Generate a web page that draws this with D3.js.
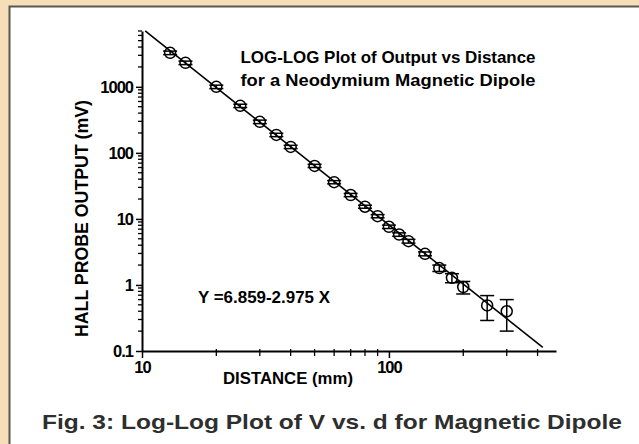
<!DOCTYPE html>
<html>
<head>
<meta charset="utf-8">
<script src="https://cdn.jsdelivr.net/npm/d3@7"></script>
<style>
  body { margin: 0; background: #f5deb8; }
  svg { display: block; font-family: "Liberation Sans", Arial, sans-serif; }
</style>
</head>
<body>
<div id="chart-container"></div>
<script>
// Distance (mm) and hall probe output (mV)
const distance = [13, 15, 20, 25, 30, 35, 40, 50, 60, 70, 80, 90, 100, 110, 120, 140, 160, 180, 200, 250, 300];
const output = [3270, 2310, 1000, 515, 295, 187, 123, 63.5, 36, 23, 15.3, 11, 7.6, 5.8, 4.6, 2.96, 1.8, 1.28, 0.93, 0.49, 0.4];
const outputErr = [200, 140, 60, 30, 18, 11, 7, 3.5, 2, 1.3, 0.8, 0.6, 0.45, 0.35, 0.3, 0.2, 0.2, 0.2, 0.2, 0.2, 0.2];

// fit line: log10(V) = 6.859 - 2.975 log10(d)
const fitIntercept = 6.859;
const fitSlope = -2.975;
const fitRange = [10.3, 420];

const yMajorTicks = [0.1, 1, 10, 100, 1000];
const xMajorTicks = [10, 100];

const width = 639,
  height = 444;

const svg = d3
  .select("#chart-container")
  .append("svg")
  .attr("width", width)
  .attr("height", height);

// parchment background + white panel
svg.append("rect").attr("width", width).attr("height", height).attr("fill", "#f5deb8");
svg
  .append("rect")
  .attr("x", 9.5)
  .attr("y", 6.5)
  .attr("width", 660)
  .attr("height", 460)
  .attr("fill", "#fff")
  .attr("stroke", "#5a5650")
  .attr("stroke-width", 2);

// scales
const x = d3.scaleLog().domain([10, 475]).range([142, 556]);
const y = d3.scaleLog().domain([0.1, 7000]).range([351, 31]);

// minor ticks
const yMinor = [];
for (let dec = 0.1; dec < 7000; dec *= 10) {
  for (let k = 2; k <= 9; k++) {
    const v = +(dec * k).toPrecision(3);
    if (v <= 7000) yMinor.push(v);
  }
}
const xMinor = [20, 30, 40, 50, 60, 70, 80, 90, 200, 300, 400];

// Y axis
const yAxis = svg
  .append("g")
  .attr("transform", "translate(142,0)")
  .call(d3.axisLeft(y).tickValues(yMajorTicks).tickFormat(d3.format("~g")).tickSize(6).tickSizeOuter(0).tickPadding(3));
yAxis.select(".domain").attr("stroke-width", 2);
yAxis.selectAll(".tick line").attr("stroke-width", 1.5);
yAxis
  .selectAll("text")
  .style("font-size", "16.5px")
  .style("font-weight", "bold")
  .style("letter-spacing", "-1px")
  .attr("fill", "#000");

svg
  .append("g")
  .selectAll("line")
  .data(yMinor)
  .enter()
  .append("line")
  .attr("x1", 138)
  .attr("x2", 142)
  .attr("y1", (d) => y(d))
  .attr("y2", (d) => y(d))
  .attr("stroke", "#000")
  .attr("stroke-width", 1.3);

// X axis
const xAxis = svg
  .append("g")
  .attr("transform", "translate(0,351)")
  .call(d3.axisBottom(x).tickValues(xMajorTicks).tickFormat(d3.format("~g")).tickSize(7).tickSizeOuter(0).tickPadding(3));
xAxis.select(".domain").attr("stroke-width", 2);
xAxis.selectAll(".tick line").attr("stroke-width", 1.5);
xAxis
  .selectAll("text")
  .style("font-size", "16.5px")
  .style("font-weight", "bold")
  .style("letter-spacing", "-1px")
  .attr("fill", "#000");

svg
  .append("g")
  .selectAll("line")
  .data(xMinor)
  .enter()
  .append("line")
  .attr("x1", (d) => x(d))
  .attr("x2", (d) => x(d))
  .attr("y1", 349)
  .attr("y2", 356)
  .attr("stroke", "#000")
  .attr("stroke-width", 1.3);

// regression line
const fitLine = fitRange.map((d) => [d, Math.pow(10, fitIntercept + fitSlope * Math.log10(d))]);
svg
  .append("path")
  .datum(fitLine)
  .attr("fill", "none")
  .attr("stroke", "#000")
  .attr("stroke-width", 1.6)
  .attr("d", d3.line().x((d) => x(d[0])).y((d) => y(d[1])));

// points with error bars
const data = distance.map((d, i) => ({ d: d, v: output[i], e: outputErr[i] }));
const pts = svg.append("g").selectAll("g").data(data).enter().append("g");

pts
  .append("line")
  .attr("x1", (p) => x(p.d))
  .attr("x2", (p) => x(p.d))
  .attr("y1", (p) => y(p.v + p.e))
  .attr("y2", (p) => y(p.v - p.e))
  .attr("stroke", "#000")
  .attr("stroke-width", 1.5);

[1, -1].forEach((sgn) => {
  pts
    .append("line")
    .attr("x1", (p) => x(p.d) - 7)
    .attr("x2", (p) => x(p.d) + 7)
    .attr("y1", (p) => y(p.v + sgn * p.e))
    .attr("y2", (p) => y(p.v + sgn * p.e))
    .attr("stroke", "#000")
    .attr("stroke-width", 1.5);
});

pts
  .append("circle")
  .attr("cx", (p) => x(p.d))
  .attr("cy", (p) => y(p.v))
  .attr("r", 5.5)
  .attr("fill", "none")
  .attr("stroke", "#000")
  .attr("stroke-width", 1.5);

// texts
const bold = (sel) => sel.attr("font-weight", "bold").attr("fill", "#000");

svg.append("text").call(bold)
  .attr("x", 388).attr("y", 63).attr("text-anchor", "middle")
  .attr("font-size", 17).attr("textLength", 295).attr("lengthAdjust", "spacingAndGlyphs")
  .text("LOG-LOG Plot of Output vs Distance");
svg.append("text").call(bold)
  .attr("x", 388).attr("y", 86).attr("text-anchor", "middle")
  .attr("font-size", 17).attr("textLength", 295).attr("lengthAdjust", "spacingAndGlyphs")
  .text("for a Neodymium Magnetic Dipole");

svg.append("text").call(bold)
  .attr("x", 198).attr("y", 303)
  .attr("font-size", 17).attr("textLength", 132).attr("lengthAdjust", "spacingAndGlyphs")
  .text("Y =6.859-2.975 X");

svg.append("text").call(bold)
  .attr("transform", "translate(88,218.5) rotate(-90)")
  .attr("text-anchor", "middle")
  .attr("font-size", 17.5).attr("textLength", 237).attr("lengthAdjust", "spacingAndGlyphs")
  .text("HALL PROBE OUTPUT (mV)");

svg.append("text").call(bold)
  .attr("x", 288).attr("y", 384).attr("text-anchor", "middle")
  .attr("font-size", 17).attr("textLength", 130).attr("lengthAdjust", "spacingAndGlyphs")
  .text("DISTANCE (mm)");

svg.append("text")
  .attr("x", 332).attr("y", 429).attr("text-anchor", "middle")
  .attr("font-weight", "bold").attr("fill", "#2e2e2e")
  .attr("font-size", 21).attr("textLength", 580).attr("lengthAdjust", "spacingAndGlyphs")
  .text("Fig. 3: Log-Log Plot of V vs. d for Magnetic Dipole");
</script>
</body>
</html>
